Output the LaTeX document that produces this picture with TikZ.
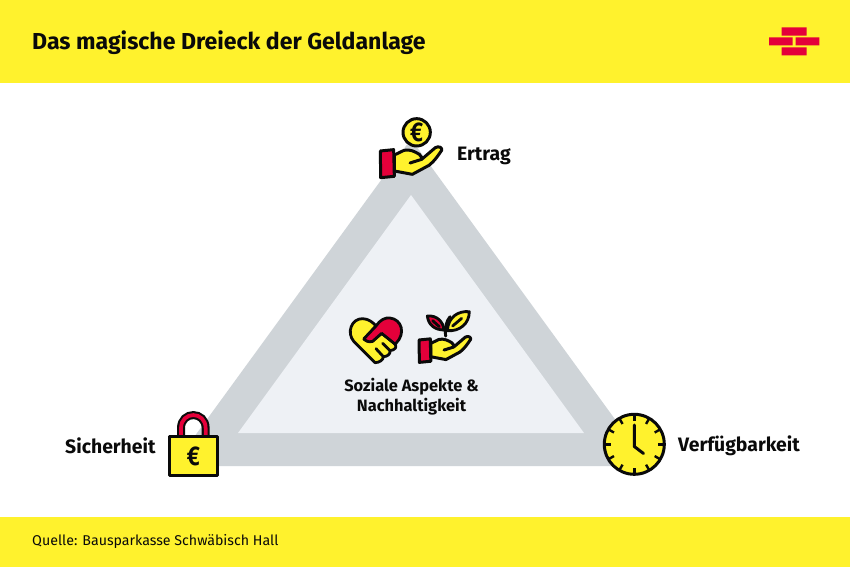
\documentclass[tikz,border=0pt]{standalone}
\usepackage{fontspec}
\setmainfont{Fira Sans}
\definecolor{ylw}{HTML}{FFF22D}
\definecolor{rd}{HTML}{E4003A}
\definecolor{band}{HTML}{CFD4D8}
\definecolor{inner}{HTML}{EEF1F5}
\definecolor{ink}{HTML}{0A0A0A}
\tikzset{
 icon/.style={draw=ink,line width=3pt,line join=round,line cap=round},
 thinicon/.style={draw=ink,line width=2.8pt,line join=round,line cap=round},
 title/.style={font=\fontsize{23.1}{26}\selectfont\bfseries,anchor=west,inner sep=0pt,text=ink},
 lbl/.style={font=\fontsize{19.4}{23}\selectfont\bfseries,anchor=west,inner sep=0pt,text=ink},
 midlbl/.style={font=\fontsize{16.4}{20.5}\selectfont\bfseries,inner sep=0pt,text=ink,align=center},
 src/.style={font=\fontsize{14.2}{16}\selectfont,anchor=west,inner sep=0pt,text=ink},
 euro/.style={font=\fontsize{27}{27}\selectfont\bfseries,inner sep=0pt,text=ink,xscale=0.82},
}
\newcommand{\handicon}[1]{%
  \begin{scope}[#1]
   \path[fill=ylw,icon] (103,150) -- (132,136) .. controls (150,132) and (165,140) .. (178,148) .. controls (185,154) and (186,160) .. (185,163) -- (226,128) .. controls (236,122) and (248,128) .. (245,136) .. controls (234,152) and (224,168) .. (207,181) -- (157,208) -- (103,198) -- cycle;
   \draw[icon] (150,174) -- (185,163);
   \path[fill=rd,icon] (61,138) -- (101,134) -- (103,214) -- (62,218) -- cycle;
  \end{scope}}
\begin{document}
\begin{tikzpicture}[x=1pt,y=-1pt]
\useasboundingbox (0,0) rectangle (850,567);
\fill[white] (0,0) rectangle (850,567);
\fill[ylw] (0,0) rectangle (850,83);
\fill[ylw] (0,517) rectangle (850,567);
\node[title] (t) at (32,43) {Das magische Dreieck der Geldanlage};
\node[src] (q) at (32,541.5) {Quelle: Bausparkasse Schwäbisch Hall};
% logo
\begin{scope}[shift={(760,20)},x=0.3333pt,y=-0.3333pt]
 \fill[rd] (65,22) rectangle (140,47) (27,52) rectangle (98,76) (107,52) rectangle (178,76) (65,82) rectangle (140,106);
\end{scope}
% triangle
\fill[band] (411,139) -- (649,466) -- (173,466) -- cycle;
\fill[inner] (411,195) -- (584,433) -- (238,433) -- cycle;
% top icon
\begin{scope}[shift={(360,105)},x=0.3333pt,y=-0.3333pt]
 \path[fill=ylw,icon] (170,82) circle[radius=41];
 \node[euro] (e1) at (170,82) {€};
 \handicon{}
\end{scope}
\node[lbl] (ertrag) at (457,155.5) {Ertrag};
% lock
\begin{scope}[shift={(160,400)},x=0.3333pt,y=-0.3333pt]
 \draw[ink,line width=8pt] (63,110) -- (63,85) .. controls (63,32) and (137,32) .. (137,85) -- (137,110);
 \draw[rd,line width=3.8pt] (63,110) -- (63,85) .. controls (63,32) and (137,32) .. (137,85) -- (137,110);
 \path[fill=ylw,icon] (29,108) rectangle (172,228);
 \node[euro] (e2) at (100,168) {€};
\end{scope}
\node[lbl] (sich) at (65,445.5) {Sicherheit};
% clock
\path[fill=ylw,icon,line width=3pt] (634.3,444.3) circle[radius=30];
\foreach \a in {0,30,...,330}{
 \draw[ink,line width=2.4pt] (634.3,444.3) ++(\a:30) -- ++(\a+180:6.5);
}
\draw[ink,line width=3pt,line cap=round,line join=round] (634.3,425) -- (634.3,446.5) -- (643.5,453.5);
\node[lbl] (verf) at (678,445.5) {Verfügbarkeit};
% heart + plant
\begin{scope}[shift={(340,300)},x=0.3333pt,y=-0.3333pt]
 \path[fill=ylw,thinicon] (105,188) -- (42,125) .. controls (18,98) and (35,55) .. (68,56) .. controls (85,56) and (100,68) .. (108,78) -- (72,118) -- (95,125) -- (125,100) -- (165,132) .. controls (172,142) and (165,150) .. (150,152) .. controls (152,162) and (142,170) .. (130,170) .. controls (130,180) and (118,188) .. (105,188) -- cycle;
 \path[fill=rd,thinicon] (108,78) .. controls (120,60) and (135,52) .. (150,54) .. controls (185,58) and (198,100) .. (168,130) -- (165,132) -- (125,100) -- (98,124) .. controls (85,128) and (75,122) .. (72,116) -- cycle;
 \draw[thinicon] (150,152) -- (128,130) (130,170) -- (108,146);
 % plant
 \draw[thinicon] (317,108) .. controls (315,80) and (318,65) .. (330,50);
 \draw[thinicon] (317,108) -- (315,92);
 \path[fill=rd,thinicon] (262,48) .. controls (290,45) and (310,65) .. (312,90) .. controls (285,90) and (265,75) .. (262,48) -- cycle;
 \draw[thinicon] (278,62) -- (298,80);
 \path[fill=ylw,thinicon] (388,35) .. controls (355,32) and (325,50) .. (322,92) .. controls (360,95) and (388,70) .. (388,35) -- cycle;
 \draw[thinicon] (338,78) -- (365,55);
 \handicon{shift={(186,4)},x=0.2800pt,y=-0.2800pt}
\end{scope}
\node[midlbl] (mid) at (411.5,396.5) {Soziale Aspekte \&\\Nachhaltigkeit};
\end{tikzpicture}
\end{document}
